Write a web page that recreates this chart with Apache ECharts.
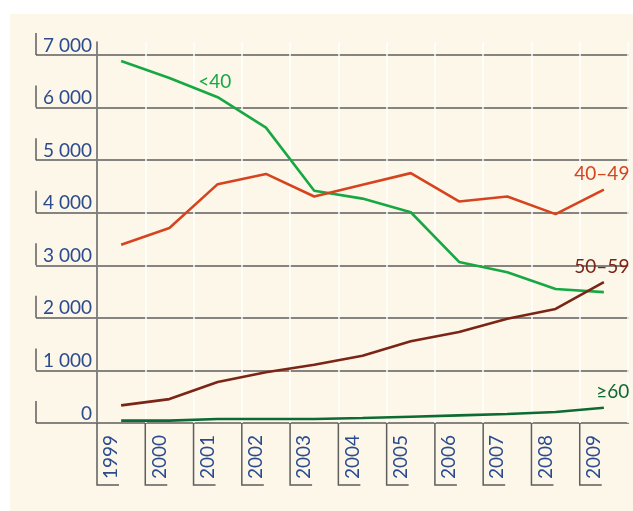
<!DOCTYPE html>
<html>
<head>
<meta charset="utf-8">
<style>
  html, body { margin: 0; padding: 0; background: #ffffff; }
  #chart { width: 633px; height: 511px; }
</style>
<script src="https://cdn.jsdelivr.net/npm/echarts@6/dist/echarts.min.js"></script>
</head>
<body>
<div id="chart"></div>
<script>
const years = ['1999', '2000', '2001', '2002', '2003', '2004', '2005', '2006', '2007', '2008', '2009'];
const under40 = [6890, 6565, 6200, 5620, 4420, 4270, 4010, 3065, 2870, 2550, 2490];
const age40to49 = [3390, 3710, 4545, 4740, 4310, 4535, 4755, 4215, 4310, 3975, 4440];
const age50to59 = [335, 455, 780, 965, 1110, 1280, 1555, 1730, 1985, 2170, 2680];
const over60 = [45, 45, 75, 75, 75, 95, 120, 145, 170, 210, 290];
const yTicks = [0, 1000, 2000, 3000, 4000, 5000, 6000, 7000];

const FONT = 'Lato, "DejaVu Sans", sans-serif';
const NAVY = '#2b4b8e';
const GRIDCOL = '#5e5e5e';

const chart = echarts.init(document.getElementById('chart'));

function lineSeries(name, data, color, labelIndex, labelOpts) {
    return {
        name: name,
        type: 'line',
        xAxisIndex: 0,
        yAxisIndex: 0,
        data: data.map((v, i) => {
            if (i !== labelIndex) return v;
            return {
                value: v,
                label: Object.assign({
                    show: true,
                    formatter: name,
                    position: 'top',
                    distance: 6,
                    color: color,
                    fontFamily: FONT,
                    fontSize: 19
                }, labelOpts || {})
            };
        }),
        symbol: 'circle',
        symbolSize: 0,
        showSymbol: true,
        lineStyle: { color: color, width: 2.6 },
        itemStyle: { color: color },
        z: 5
    };
}

const option = {
    animation: false,
    backgroundColor: '#ffffff',
    graphic: [{
        type: 'rect',
        shape: { x: 10, y: 14, width: 640, height: 520 },
        style: { fill: '#fdf7ea' },
        z: -10
    }],
    grid: [
        { left: 97, right: 5, top: 42, bottom: 88 },
        { left: 36, right: 4, top: 55, bottom: 88 }
    ],
    xAxis: [{
        gridIndex: 0,
        type: 'category',
        data: years,
        boundaryGap: true,
        axisLine: { show: false },
        axisTick: { show: false },
        axisLabel: {
            interval: 0,
            rotate: 90,
            margin: 12,
            color: NAVY,
            fontFamily: FONT,
            fontSize: 19,
            lineHeight: 20,
            verticalAlign: 'bottom'
        },
        splitLine: { show: true, interval: 0, lineStyle: { color: '#ffffff', width: 1.5 } }
    }, {
        gridIndex: 1,
        type: 'value',
        min: 0,
        max: 1,
        show: false
    }],
    yAxis: [{
        gridIndex: 0,
        type: 'value',
        min: 0,
        max: 7250,
        axisLine: { show: true, lineStyle: { color: GRIDCOL, width: 1.5 } },
        axisTick: { show: false },
        axisLabel: { show: false },
        splitLine: { show: false }
    }, {
        gridIndex: 1,
        type: 'value',
        min: 0,
        max: 7000,
        interval: 1000,
        axisLine: { show: false },
        axisTick: { show: false },
        axisLabel: {
            inside: true,
            margin: 56,
            align: 'right',
            verticalAlign: 'bottom',
            color: NAVY,
            fontFamily: FONT,
            fontSize: 19,
            formatter: v => v === 0 ? '0' : (v / 1000) + ' 000'
        },
        splitLine: { show: true, lineStyle: { color: GRIDCOL, width: 1.5 } }
    }],
    series: [
        lineSeries('<40', under40, '#17a844', 2, { offset: [-3, 0] }),
        lineSeries('40–49', age40to49, '#d5441e', 10, { offset: [-2, 0] }),
        lineSeries('50–59', age50to59, '#7b2516', 10, { offset: [-2, 0] }),
        lineSeries('≥60', over60, '#0b6b33', 10, { offset: [9, 0] }),
        {
            // bracket marks next to the value labels
            type: 'custom',
            xAxisIndex: 1,
            yAxisIndex: 1,
            clip: false,
            silent: true,
            data: yTicks.map(v => [0, v]),
            renderItem: function (params, api) {
                const p = api.coord([0, api.value(1)]);
                return {
                    type: 'line',
                    shape: { x1: p[0], y1: p[1] - 22, x2: p[0], y2: p[1] },
                    style: { stroke: GRIDCOL, lineWidth: 1.5 }
                };
            }
        },
        {
            // bracket marks under the year labels
            type: 'custom',
            xAxisIndex: 0,
            yAxisIndex: 0,
            clip: false,
            silent: true,
            data: years.map((y, i) => [i, 0]),
            renderItem: function (params, api) {
                const p = api.coord([api.value(0), 0]);
                const bw = api.size([1, 0])[0];
                const x = p[0] - bw / 2;
                return {
                    type: 'polyline',
                    shape: { points: [[x, p[1]], [x, p[1] + 62], [x + 22, p[1] + 62]] },
                    style: { stroke: GRIDCOL, lineWidth: 1.5, fill: 'none' }
                };
            }
        }
    ]
};

chart.setOption(option);
window.addEventListener('resize', function () {
    chart.resize();
});
</script>
</body>
</html>
